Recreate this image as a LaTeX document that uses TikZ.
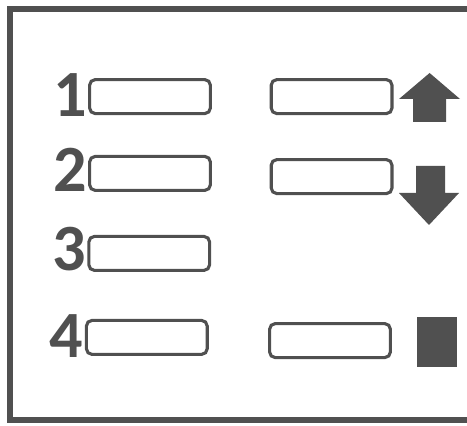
\documentclass[tikz,border=0pt]{standalone}
\usepackage{fontspec}
\setmainfont{Carlito}
\usetikzlibrary{positioning}
\definecolor{PanelGray}{HTML}{505050}

\begin{document}
\begin{tikzpicture}[x=1cm,y=1cm,
  slot/.style={draw=PanelGray,line width=2.2pt,rounded corners=4pt,minimum width=3.02cm,minimum height=0.85cm,inner sep=0pt},
  digit/.style={text=PanelGray,font=\fontsize{47}{47}\selectfont\bfseries,inner sep=0pt}]
\path[use as bounding box] (0,0) rectangle (11.675,10.625);
% frame, open to the right
\draw[PanelGray,line width=4.3pt] (11.90,10.41) -- (0.26,10.41) -- (0.26,0.125) -- (11.90,0.125);
% left column
\node[slot] (L1) at (3.75,8.21) {};
\node[slot] (L2) at (3.75,6.29) {};
\node[slot] (L3) at (3.73,4.29) {};
\node[slot] (L4) at (3.67,2.19) {};
\node[digit,left=0.03cm of L1,yshift=0.04cm] (n1) {1};
\node[digit,left=0.03cm of L2,yshift=0.08cm] (n2) {2};
\node[digit,left=0.03cm of L3,yshift=0.10cm] (n3) {3};
\node[digit,left=0.03cm of L4,yshift=0.03cm] (n4) {4};
% right column
\node[slot] (R1) at (8.29,8.21) {};
\node[slot] (R2) at (8.29,6.21) {};
\node[slot] (R4) at (8.25,2.11) {};
% up, down, stop
\fill[PanelGray] (10.74,8.80) -- (11.50,8.15) -- (11.15,8.15) -- (11.15,7.575) -- (10.325,7.575) -- (10.325,8.15) -- (9.975,8.15) -- cycle;
\fill[PanelGray] (10.725,5.00) -- (11.475,5.80) -- (11.125,5.80) -- (11.125,6.475) -- (10.40,6.475) -- (10.40,5.80) -- (9.975,5.80) -- cycle;
\fill[PanelGray] (10.425,1.45) rectangle (11.425,2.70);
\end{tikzpicture}
\end{document}
